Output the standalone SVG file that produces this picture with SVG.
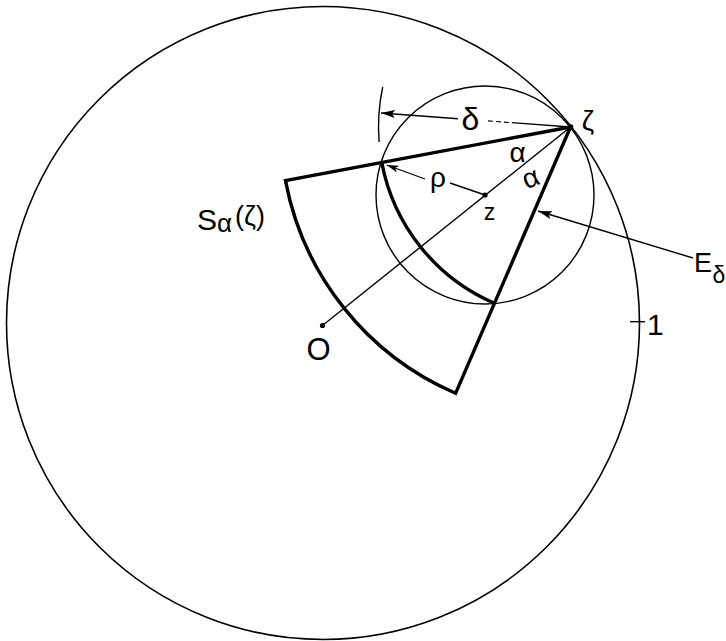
<svg xmlns="http://www.w3.org/2000/svg" width="726" height="641" viewBox="0 0 726 641">
  <defs>
    <marker id="arr" markerUnits="userSpaceOnUse" viewBox="0 0 14 8" refX="14" refY="4" markerWidth="14" markerHeight="8" orient="auto">
      <path d="M0,0 L14,4 L0,8 L3,4 z" fill="#000"/>
    </marker>
    <marker id="arrs" markerUnits="userSpaceOnUse" viewBox="0 0 12 7" refX="12" refY="3.5" markerWidth="12" markerHeight="7" orient="auto">
      <path d="M0,0 L12,3.5 L0,7 L3,3.5 z" fill="#000"/>
    </marker>
  </defs>
  <style>
    .thin { fill: none; stroke: #000; stroke-width: 1.4; }
    .thick { fill: none; stroke: #000; stroke-width: 3.4; stroke-linejoin: miter; }
    .lbl { font-family: "Liberation Sans", "DejaVu Sans", sans-serif; fill: #000; }
    .dot { fill: #000; }
  </style>
  <rect width="726" height="641" fill="#fff"/>

  <g id="unit-circle">
    <circle class="thin" cx="323" cy="323" r="316.5" style="stroke-width:1.6"/>
    <line class="thin" x1="630" y1="321.7" x2="645" y2="321.7"/>
    <text class="lbl" x="647" y="335" font-size="30">1</text>
  </g>

  <g id="disc-E">
    <circle class="thin" cx="485" cy="195" r="109"/>
  </g>

  <g id="sector-S">
    <path class="thick" d="M570.5,127 L285.5,180.6 A290,290 0 0 0 455.6,393.3 Z"/>
    <path class="thick" d="M381.8,162.5 A192,192 0 0 0 494.4,303.3"/>
    <text class="lbl" y="230" font-size="30"><tspan x="197">S</tspan><tspan x="217" y="232" font-size="26">α</tspan><tspan x="235" y="225" font-size="27">(ζ)</tspan></text>
  </g>

  <g id="point-O">
    <circle class="dot" cx="322.5" cy="325.5" r="2.6"/>
    <text class="lbl" x="318.5" y="360" font-size="31" text-anchor="middle">O</text>
  </g>

  <g id="point-z">
    <circle class="dot" cx="485" cy="195" r="2.6"/>
    <text class="lbl" x="489.5" y="220" font-size="23" text-anchor="middle">z</text>
  </g>

  <g id="point-zeta">
    <circle class="dot" cx="570.5" cy="127" r="2.8"/>
    <text class="lbl" x="588" y="130" font-size="28" text-anchor="middle">ζ</text>
  </g>

  <g id="angle-labels">
    <text class="lbl" x="517.5" y="162" font-size="28" text-anchor="middle">α</text>
    <text class="lbl" x="531.5" y="187" font-size="28" text-anchor="middle" transform="rotate(-22 531.5 180)">α</text>
  </g>

  <g id="delta-tick">
    <path class="thin" d="M382.7,87 A192,192 0 0 0 379.1,142"/>
  </g>

  <g id="connectors">
    <line class="thin" x1="322.5" y1="325.5" x2="570.5" y2="127"/>
    <line class="thin" x1="458" y1="118.7" x2="381" y2="113" marker-end="url(#arr)"/>
    <line class="thin" x1="488" y1="120.9" x2="515" y2="122.9" stroke-dasharray="5 3" style="stroke-width:1.1"/>
    <line class="thin" x1="515" y1="122.9" x2="570.5" y2="127" style="stroke-width:1.3"/>
    <line class="thin" x1="425" y1="179" x2="386.7" y2="165" marker-end="url(#arrs)" style="stroke-width:1.2"/>
    <line class="thin" x1="450" y1="183" x2="485" y2="195"/>
    <line class="thin" x1="693" y1="258" x2="538" y2="211" marker-end="url(#arr)"/>
  </g>

  <g id="labels">
    <text class="lbl" x="470.5" y="130" font-size="32" text-anchor="middle">δ</text>
    <text class="lbl" x="438" y="187" font-size="28" text-anchor="middle">ρ</text>
    <text class="lbl" x="694" y="272" font-size="27">E</text>
    <text class="lbl" x="712.5" y="283" font-size="23">δ</text>
  </g>
</svg>
